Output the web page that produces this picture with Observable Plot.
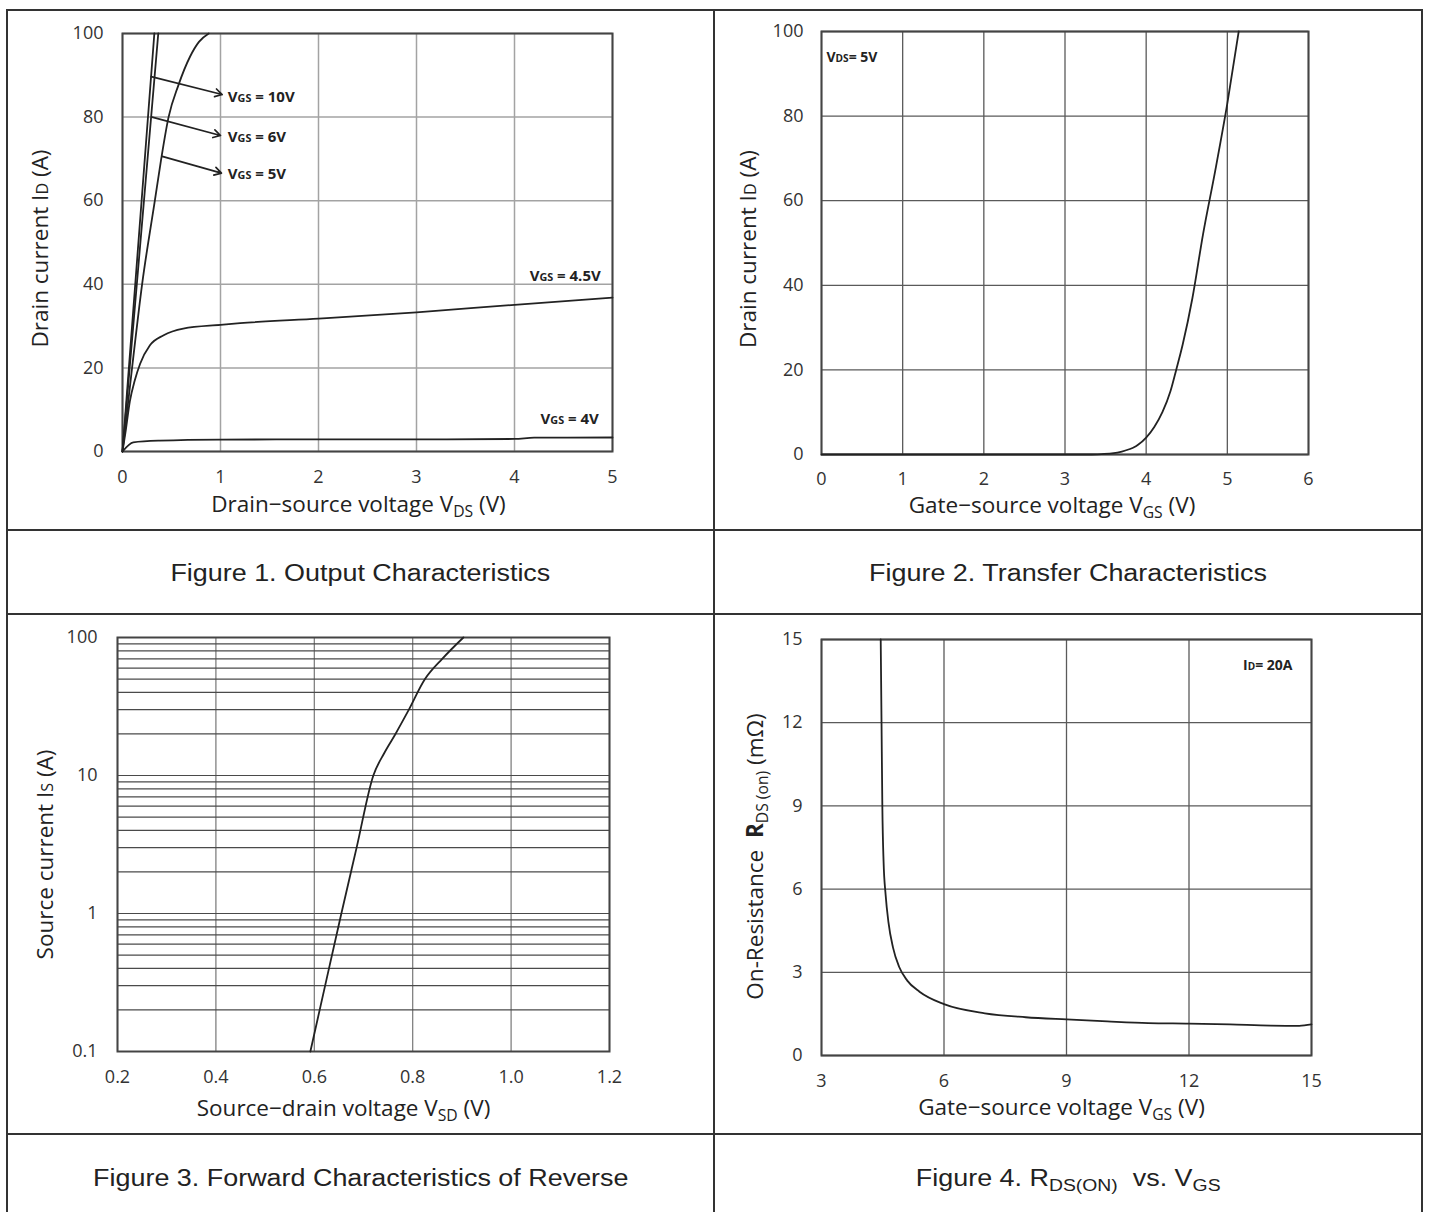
<!DOCTYPE html>
<html><head><meta charset="utf-8">
<script src="https://cdn.jsdelivr.net/npm/d3@7"></script>
<script src="https://cdn.jsdelivr.net/npm/@observablehq/plot@0.6"></script>
<style>
body{margin:0;background:#fff;}
#page{position:relative;width:1431px;height:1212px;overflow:hidden;background:#fff;}
.ln{position:absolute;background:#333;}
.panel{position:absolute;}
.cap{position:absolute;display:flex;align-items:center;justify-content:center;font-family:"Liberation Sans",Arial,sans-serif;font-size:23px;color:#222;}
.cap span{display:inline-block;transform:scaleX(1.17);white-space:nowrap;}
.cap sub{font-size:72%;vertical-align:-0.28em;line-height:0;}
</style></head><body><div id="page"></div>
<script>
// ---------- Figure 1: Output characteristics ----------
const p1_xTicks = [0, 1, 2, 3, 4, 5];
const p1_yTicks = [0, 20, 40, 60, 80, 100];
const vgs10_vds = [0, 0.325];            const vgs10_id = [0, 100];
const vgs6_vds  = [0, 0.365];            const vgs6_id  = [0, 100];
const vgs5_vds  = [0, 0.1, 0.2, 0.33, 0.395, 0.47, 0.57, 0.69, 0.78, 0.88];
const vgs5_id   = [0, 20.5, 40, 60, 70, 80, 87.6, 94.5, 98, 100];
const vgs45_vds = [0, 0.03, 0.075, 0.125, 0.18, 0.28, 0.42, 0.62, 1.0, 1.2, 2, 3, 4, 5];
const vgs45_id  = [0, 4.5, 12, 17, 21, 25.4, 27.8, 29.4, 30.3, 30.7, 31.8, 33.3, 35.1, 36.8];
const vgs4_vds  = [0, 0.11, 0.38, 1.0, 2, 3, 4, 4.2, 5];
const vgs4_id   = [0, 2.2, 2.6, 2.85, 2.9, 2.9, 3.0, 3.3, 3.35];
const p1_arrowX1 = [0.293, 0.302, 0.405];
const p1_arrowY1 = [89.7, 80.0, 70.6];
const p1_arrowX2 = [1.017, 1.0, 1.01];
const p1_arrowY2 = [85.4, 75.6, 66.6];
const p1_arrowLabels = ["V{GS} = 10V", "V{GS} = 6V", "V{GS} = 5V"];
const p1_arrowLabelX = [1.075, 1.075, 1.075];
const p1_arrowLabelY = [84.8, 75.2, 66.4];
const p1_rightLabels = ["V{GS} = 4.5V", "V{GS} = 4V"];
const p1_rightLabelX = [4.88, 4.86];
const p1_rightLabelY = [41.9, 7.7];

// ---------- Figure 2: Transfer characteristics ----------
const p2_xTicks = [0, 1, 2, 3, 4, 5, 6];
const p2_yTicks = [0, 20, 40, 60, 80, 100];
const p2_vgs = [0, 1, 2, 3, 3.3, 3.45, 3.6, 3.7, 3.8, 3.85, 3.9, 4.0, 4.1, 4.2, 4.3, 4.37, 4.45, 4.57, 4.7, 4.85, 5.0, 5.14];
const p2_id  = [0, 0, 0, 0, 0, 0.1, 0.3, 0.7, 1.3, 1.7, 2.3, 4.0, 6.5, 10, 15, 20, 26, 37, 52, 67, 83, 100];

// ---------- Figure 3: Body diode forward ----------
const p3_xTicks = [0.2, 0.4, 0.6, 0.8, 1.0, 1.2];
const p3_yTicks = [0.1, 1, 10, 100];
const p3_yGrid = [0.1,0.2,0.3,0.4,0.5,0.6,0.7,0.8,0.9,1,2,3,4,5,6,7,8,9,10,20,30,40,50,60,70,80,90,100];
const p3_vsd = [0.592, 0.622, 0.655, 0.686, 0.72, 0.742, 0.765, 0.79, 0.825, 0.86, 0.903];
const p3_is  = [0.1, 0.3, 1, 3, 10, 14.5, 20, 29, 50, 70, 100];

// ---------- Figure 4: RDS(on) vs VGS ----------
const p4_xTicks = [3, 6, 9, 12, 15];
const p4_yTicks = [0, 3, 6, 9, 12, 15];
const p4_vgs = [4.45, 4.47, 4.49, 4.52, 4.57, 4.64, 4.75, 4.9, 5.1, 5.4, 6, 7, 8, 9, 10, 11, 12, 13, 14, 14.7, 15];
const p4_r   = [15, 12, 9, 7, 5.8, 4.8, 3.9, 3.2, 2.7, 2.3, 1.85, 1.52, 1.38, 1.3, 1.23, 1.17, 1.15, 1.12, 1.08, 1.07, 1.12];

// ---------- helpers ----------
const zipXY = (xs, ys, extra = {}) => xs.map((x, i) => ({x, y: ys[i], ...extra}));
const FONT = "'Open Sans', sans-serif";
const INK = "#222";

function richify(svg) {
  svg.querySelectorAll("text").forEach(el => {
    const s = el.textContent;
    if (!/[{\[]/.test(s)) return;
    const fs = parseFloat(getComputedStyle(el).fontSize) || 16;
    el.textContent = "";
    const re = /_\{([^}]*)\}|\{([^}]*)\}|\[([^\]]*)\]|([^_{\[]+|_)/g;
    let m, shift = 0;
    const ns = "http://www.w3.org/2000/svg";
    while ((m = re.exec(s))) {
      const t = document.createElementNS(ns, "tspan");
      if (m[1] !== undefined) {
        t.textContent = m[1];
        t.setAttribute("font-size", (fs * 0.7).toFixed(1));
        const d = fs * 0.24;
        t.setAttribute("dy", (d - shift).toFixed(1)); shift = d;
      } else {
        if (m[2] !== undefined) { t.textContent = m[2]; t.setAttribute("font-size", (fs * 0.72).toFixed(1)); }
        else if (m[3] !== undefined) { t.textContent = m[3]; t.setAttribute("font-weight", "bold"); }
        else t.textContent = m[4];
        if (shift) { t.setAttribute("dy", (-shift).toFixed(1)); shift = 0; }
      }
      el.appendChild(t);
    }
  });
}

function axes(o) {
  return [
    Plot.gridX(o.xGrid || o.xTicks, {stroke: o.gridColor, strokeOpacity: 1, strokeWidth: o.gridW || 1.2}),
    Plot.gridY(o.yGrid || o.yTicks, {stroke: o.gridColorY || o.gridColor, strokeOpacity: 1, strokeWidth: o.gridW || 1.2}),
    Plot.axisX(o.xTicks, {tickSize: 0, tickPadding: o.xPad, fontSize: 18, fill: "#333", tickFormat: o.xFmt, label: null}),
    Plot.axisY(o.yTicks, {tickSize: 0, tickPadding: o.yPad, fontSize: 18, fill: "#333", tickFormat: o.yFmt, label: null}),
    Plot.frame({stroke: "#444", strokeWidth: 2}),
    Plot.text([o.xTitle], {frameAnchor: "bottom", lineAnchor: "middle", textAnchor: "middle", dy: o.xTitleDy, dx: o.xTitleDx, fontSize: 22.5, fill: INK, text: d => d}),
    Plot.text([o.yTitle], {frameAnchor: "left", lineAnchor: "middle", textAnchor: "middle", rotate: -90, dx: o.yTitleDx, dy: o.yTitleDy, fontSize: 22.5, fill: INK, text: d => d})
  ];
}

const page = document.getElementById("page");
function place(svg, left, top) {
  const div = document.createElement("div");
  div.className = "panel";
  div.style.left = left + "px"; div.style.top = top + "px";
  div.appendChild(svg);
  page.appendChild(div);
  richify(svg);
}
const baseStyle = {fontFamily: FONT, background: "none", overflow: "visible", color: "#333"};

// Panel 1
const p1_curves = [
  ...zipXY(vgs10_vds, vgs10_id, {s: "10V"}),
  ...zipXY(vgs6_vds, vgs6_id, {s: "6V"}),
  ...zipXY(vgs5_vds, vgs5_id, {s: "5V"}),
  ...zipXY(vgs45_vds, vgs45_id, {s: "4.5V"}),
  ...zipXY(vgs4_vds, vgs4_id, {s: "4V"})
];
const p1_arrows = p1_arrowX1.map((x1, i) => ({x1, y1: p1_arrowY1[i], x2: p1_arrowX2[i], y2: p1_arrowY2[i]}));
const p1_lab = p1_arrowLabels.map((t, i) => ({t, x: p1_arrowLabelX[i], y: p1_arrowLabelY[i]}));
const p1_rlab = p1_rightLabels.map((t, i) => ({t, x: p1_rightLabelX[i], y: p1_rightLabelY[i]}));
const svg1 = Plot.plot({
  width: 714, height: 530, marginLeft: 122, marginRight: 102, marginTop: 33, marginBottom: 79,
  style: baseStyle,
  x: {domain: [0, 5]}, y: {domain: [0, 100]},
  marks: [
    ...axes({xTicks: p1_xTicks, yTicks: p1_yTicks, gridColor: "#a3a3a3", gridW: 1.5, xPad: 19, yPad: 19,
      xTitle: "Drain−source voltage V_{DS} (V)", xTitleDy: 53, xTitleDx: -9,
      yTitle: "Drain current I{D} (A)", yTitleDx: -82, yTitleDy: 6}),
    Plot.line(p1_curves, {x: "x", y: "y", z: "s", curve: "monotone-x", stroke: INK, strokeWidth: 1.8}),
    Plot.arrow(p1_arrows, {x1: "x1", y1: "y1", x2: "x2", y2: "y2", stroke: INK, strokeWidth: 1.7, headLength: 7}),
    Plot.text(p1_lab, {x: "x", y: "y", text: "t", textAnchor: "start", fontWeight: "bold", fontSize: 15, fill: INK}),
    Plot.text(p1_rlab, {x: "x", y: "y", text: "t", textAnchor: "end", fontWeight: "bold", fontSize: 15, fill: INK})
  ]
});
place(svg1, 0, 0);

// Panel 2
const svg2 = Plot.plot({
  width: 708, height: 530, marginLeft: 107, marginRight: 114, marginTop: 31, marginBottom: 76,
  style: baseStyle,
  x: {domain: [0, 6]}, y: {domain: [0, 100]},
  marks: [
    ...axes({xTicks: p2_xTicks, yTicks: p2_yTicks, gridColor: "#5a5a5a", gridW: 1.3, xPad: 18, yPad: 18,
      xTitle: "Gate−source voltage V_{GS} (V)", xTitleDy: 51, xTitleDx: -13,
      yTitle: "Drain current I{D} (A)", yTitleDx: -73, yTitleDy: 6}),
    Plot.line(zipXY(p2_vgs, p2_id), {x: "x", y: "y", curve: "monotone-x", stroke: INK, strokeWidth: 1.8}),
    Plot.text(["V{DS}= 5V"], {frameAnchor: "top-left", lineAnchor: "middle", dx: 5, dy: 26, text: d => d, textAnchor: "start", fontWeight: "bold", fontSize: 14, fill: INK})
  ]
});
place(svg2, 714, 0);

// Panel 3
const svg3 = Plot.plot({
  width: 714, height: 520, marginLeft: 117, marginRight: 105, marginTop: 23, marginBottom: 83,
  style: baseStyle,
  x: {domain: [0.2, 1.2]}, y: {type: "log", domain: [0.1, 100]},
  marks: [
    ...axes({xTicks: p3_xTicks, yTicks: p3_yTicks, yGrid: p3_yGrid, gridColor: "#777", gridColorY: "#4a4a4a", gridW: 1.2,
      xPad: 19, yPad: 20, xFmt: d3.format(".1f"), yFmt: d => String(d),
      xTitle: "Source−drain voltage V_{SD} (V)", xTitleDy: 57, xTitleDx: -20,
      yTitle: "Source current I{S} (A)", yTitleDx: -72, yTitleDy: 10}),
    Plot.line(zipXY(p3_vsd, p3_is), {x: "x", y: "y", curve: "monotone-x", stroke: INK, strokeWidth: 1.8})
  ]
});
place(svg3, 0, 614);

// Panel 4
const svg4 = Plot.plot({
  width: 708, height: 520, marginLeft: 107, marginRight: 111, marginTop: 25, marginBottom: 79,
  style: baseStyle,
  x: {domain: [3, 15]}, y: {domain: [0, 15]},
  marks: [
    ...axes({xTicks: p4_xTicks, yTicks: p4_yTicks, gridColor: "#5a5a5a", gridW: 1.3, xPad: 19, yPad: 19,
      xTitle: "Gate−source voltage V_{GS} (V)", xTitleDy: 52, xTitleDx: -5,
      yTitle: "On-Resistance  [R]_{DS (on)} (mΩ)", yTitleDx: -66, yTitleDy: 9}),
    Plot.line(zipXY(p4_vgs, p4_r), {x: "x", y: "y", curve: "monotone-x", stroke: INK, strokeWidth: 1.8}),
    Plot.text(["I{D}= 20A"], {frameAnchor: "top-right", lineAnchor: "middle", dx: -19, dy: 26, text: d => d, textAnchor: "end", fontWeight: "bold", fontSize: 14, fill: INK})
  ]
});
place(svg4, 714, 614);

// ---------- layout frame & captions ----------
function line(l, t, w, h) { const d = document.createElement("div"); d.className = "ln"; Object.assign(d.style, {left: l + "px", top: t + "px", width: w + "px", height: h + "px"}); page.appendChild(d); }
line(6, 9, 1417, 2);
line(6, 529, 1417, 2);
line(6, 613, 1417, 2);
line(6, 1133, 1417, 2);
line(6, 9, 2, 1203);
line(713, 9, 2, 1203);
line(1421, 9, 2, 1203);
function caption(html, l, t, w, h) { const d = document.createElement("div"); d.className = "cap"; Object.assign(d.style, {left: l + "px", top: t + "px", width: w + "px", height: h + "px"}); d.innerHTML = "<span>" + html + "</span>"; page.appendChild(d); }
caption("Figure 1. Output Characteristics", 8, 531, 705, 84);
caption("Figure 2. Transfer Characteristics", 715, 531, 706, 84);
caption("Figure 3. Forward Characteristics of Reverse", 8, 1135, 705, 86);
caption("Figure 4. R<sub>DS(ON)</sub>&nbsp; vs. V<sub>GS</sub>", 715, 1135, 706, 86);
</script></body></html>
